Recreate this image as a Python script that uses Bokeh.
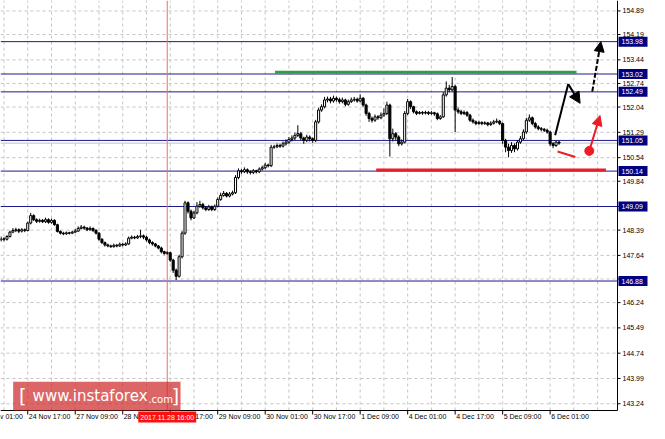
import numpy as np
from bokeh.plotting import figure
from bokeh.models import (Label, BoxAnnotation, Arrow, NormalHead, ColumnDataSource, Range1d)
from bokeh.core.properties import value
from bokeh.embed import file_html
from bokeh.resources import INLINE

# ---------------- data (H1 candles, bar index 0 = 24 Nov 17:00) ----------------
first_bar = -9
first_open = 148.10
closes = [
    148.13, 148.12, 148.20, 148.33, 148.38, 148.40, 148.36, 148.40, 148.38,
    148.60, 148.82, 148.70, 148.65, 148.68, 148.64, 148.70, 148.62, 148.68, 148.55,
    148.35, 148.30, 148.28, 148.31, 148.30, 148.33, 148.36, 148.44, 148.48, 148.45,
    148.40, 148.44, 148.38, 148.30, 148.12, 148.02, 147.95, 147.92, 147.90, 147.94,
    147.92, 147.97, 147.95, 147.98, 148.15, 148.18, 148.16, 148.20, 148.22, 148.18,
    148.10, 148.02, 147.98, 147.92, 147.86, 147.75, 147.70, 147.72, 147.50, 147.20,
    147.02, 147.60, 148.30, 149.20, 148.95, 148.75, 148.90, 149.10, 149.15, 149.05,
    149.00, 149.08, 149.00, 149.10, 149.30, 149.42, 149.48, 149.40, 149.46, 149.50,
    149.95, 150.15, 150.12, 150.18, 150.12, 150.10, 150.15, 150.12, 150.20, 150.24,
    150.32, 150.30, 150.85, 150.86, 150.90, 150.88, 150.95, 151.00, 151.08, 151.12,
    151.20, 151.25, 151.12, 151.05, 151.15, 151.10, 151.05, 151.60, 151.95, 152.05,
    152.25, 152.28, 152.22, 152.30, 152.26, 152.20, 152.25, 152.12, 152.20, 152.25,
    152.27, 152.22, 152.30, 152.10, 151.85, 151.70, 151.65, 151.75, 151.72, 151.80,
    151.85, 152.10, 151.10, 151.25, 151.15, 150.95, 151.00, 151.85, 152.20, 152.05,
    151.90, 151.85, 151.88, 151.86, 151.88, 151.85, 151.87, 151.84, 151.70, 151.75,
    152.40, 152.60, 152.55, 152.65, 151.95, 151.90, 151.85, 151.88, 151.80, 151.65,
    151.60, 151.55, 151.58, 151.55, 151.57, 151.52, 151.56, 151.60, 151.62, 151.55,
    151.05, 150.85, 150.75, 150.90, 150.80, 151.00, 151.10, 151.30, 151.65, 151.72,
    151.55, 151.45, 151.40, 151.38, 151.35, 151.30, 150.95, 150.90, 151.00, 150.97,
]
highs = [
    148.20, 148.18, 148.24, 148.37, 148.45, 148.46, 148.44, 148.45, 148.44,
    148.64, 148.90, 148.86, 148.74, 148.73, 148.72, 148.76, 148.74, 148.73, 148.71,
    148.58, 148.38, 148.34, 148.35, 148.34, 148.37, 148.42, 148.50, 148.54, 148.52,
    148.48, 148.50, 148.47, 148.42, 148.33, 148.15, 148.05, 147.99, 147.96, 147.99,
    147.98, 148.02, 148.01, 148.03, 148.20, 148.23, 148.22, 148.25, 148.40, 148.26,
    148.22, 148.14, 148.06, 148.01, 147.95, 147.90, 147.78, 147.76, 147.75, 147.54,
    147.25, 147.66, 148.36, 149.26, 149.24, 149.00, 148.96, 149.22, 149.26, 149.20,
    149.10, 149.14, 149.12, 149.15, 149.36, 149.50, 149.55, 149.52, 149.52, 149.56,
    150.02, 150.22, 150.20, 150.25, 150.22, 150.16, 150.20, 150.18, 150.25, 150.30,
    150.38, 150.36, 150.92, 150.92, 150.96, 150.95, 151.02, 151.08, 151.15, 151.20,
    151.28, 151.50, 151.30, 151.16, 151.22, 151.20, 151.14, 151.66, 152.02, 152.12,
    152.34, 152.35, 152.34, 152.38, 152.35, 152.32, 152.32, 152.29, 152.26, 152.32,
    152.34, 152.32, 152.42, 152.34, 152.14, 151.90, 151.76, 151.82, 151.80, 151.88,
    152.00, 152.20, 152.14, 151.40, 151.30, 151.20, 151.08, 151.92, 152.28, 152.24,
    152.08, 151.94, 151.92, 151.92, 151.93, 151.92, 151.92, 151.90, 151.88, 151.80,
    152.48, 152.80, 152.70, 152.93, 152.70, 152.02, 151.96, 151.94, 151.92, 151.84,
    151.70, 151.64, 151.63, 151.62, 151.62, 151.60, 151.62, 151.66, 151.70, 151.66,
    151.58, 151.10, 150.95, 151.00, 150.96, 151.06, 151.18, 151.38, 151.72, 151.82,
    151.76, 151.60, 151.50, 151.45, 151.42, 151.40, 151.34, 151.00, 151.06, 151.04,
]
lows = [
    148.05, 148.06, 148.08, 148.17, 148.30, 148.33, 148.30, 148.32, 148.33,
    148.35, 148.56, 148.66, 148.60, 148.61, 148.60, 148.60, 148.58, 148.58, 148.52,
    148.32, 148.26, 148.24, 148.25, 148.26, 148.27, 148.30, 148.34, 148.41, 148.40,
    148.36, 148.37, 148.33, 148.26, 148.08, 147.98, 147.90, 147.88, 147.86, 147.87,
    147.88, 147.89, 147.91, 147.92, 147.95, 148.12, 148.12, 148.13, 148.15, 148.12,
    148.05, 147.97, 147.93, 147.88, 147.82, 147.70, 147.66, 147.66, 147.45, 147.12,
    146.91, 146.98, 147.55, 148.25, 148.88, 148.68, 148.72, 148.86, 149.05, 149.00,
    148.95, 148.96, 148.95, 148.96, 149.06, 149.26, 149.38, 149.36, 149.36, 149.42,
    149.46, 149.90, 150.06, 150.08, 150.06, 150.04, 150.05, 150.07, 150.08, 150.16,
    150.20, 150.25, 150.26, 150.80, 150.82, 150.83, 150.84, 150.90, 150.95, 151.02,
    151.06, 151.15, 151.06, 150.95, 151.00, 151.02, 150.98, 151.00, 151.55, 151.90,
    152.00, 152.18, 152.15, 152.17, 152.20, 152.14, 152.15, 152.06, 152.08, 152.16,
    152.20, 152.17, 152.18, 152.05, 151.78, 151.60, 151.58, 151.60, 151.66, 151.68,
    151.75, 151.80, 150.57, 151.02, 151.05, 150.88, 150.90, 150.96, 151.80, 151.98,
    151.85, 151.80, 151.82, 151.81, 151.82, 151.80, 151.81, 151.78, 151.65, 151.66,
    151.72, 152.35, 152.48, 152.50, 151.30, 151.84, 151.80, 151.80, 151.75, 151.60,
    151.55, 151.50, 151.51, 151.50, 151.51, 151.47, 151.48, 151.52, 151.56, 151.50,
    150.95, 150.70, 150.55, 150.68, 150.70, 150.75, 150.95, 151.05, 151.25, 151.60,
    151.50, 151.40, 151.35, 151.32, 151.30, 151.25, 150.88, 150.82, 150.86, 150.92,
]

x_tick_bars = [-16, 0, 16, 32, 48, 64, 80, 96, 112, 128, 144, 160, 176]
x_tick_labels = ["24 Nov 01:00", "24 Nov 17:00", "27 Nov 09:00", "28 Nov 01:00",
                 "28 Nov 17:00", "29 Nov 09:00", "30 Nov 01:00", "30 Nov 17:00",
                 "1 Dec 09:00", "4 Dec 01:00", "4 Dec 17:00", "5 Dec 09:00", "6 Dec 01:00"]
x_grid_bars = list(range(-8, 200, 8))
y_ticks = [154.89, 154.19, 153.44, 152.74, 152.04, 151.29, 150.54, 149.84, 149.09,
           148.39, 147.64, 146.94, 146.24, 145.49, 144.74, 143.99, 143.24]
y_tick_labels = ["154.89", "154.19", "153.44", "152.74", "152.04", "151.29", "150.54",
                 "149.84", "", "148.39", "147.64", "", "146.24", "145.49", "144.74",
                 "143.99", "143.24"]

level_prices = [153.98, 153.02, 152.49, 151.05, 150.14, 149.09, 146.88]
level_labels = ["153.98", "153.02", "152.49", "151.05", "150.14", "149.09", "146.88"]
bid_price = 150.97

green_level = 153.07
green_bars = (83.3, 184.9)
red_level = 150.17
red_bars = (117.4, 194.8)
cursor_bar = 47
cursor_label = "2017.11.28 16:00"

# hand-drawn forecast marks (bar index, price)
black_path_x = [177.7, 182.1, 186.1]
black_path_y = [151.20, 152.72, 152.15]
dashed_arrow_x = [190.2, 193.1]
dashed_arrow_y = [152.50, 153.98]
red_stroke_x = [178.5, 184.5]
red_stroke_y = [150.72, 150.56]
red_arrow_x = [189.2, 192.8]
red_arrow_y = [150.74, 151.79]

# ---------------- layout ----------------
W, H = 649, 423
CW, CH = 617, 410                 # chart area (price panel) in px
XR0, XR1 = -9.18, 198.7           # chart area x extent (bars)
YR0, YR1 = 143.04, 155.20         # chart area y extent (price)
PXB = CW / (XR1 - XR0)            # px per bar
PPP = (YR1 - YR0) / CH            # price per px
XF1 = XR0 + W / PXB               # full canvas extent (axis strips inside the frame)
YF0 = YR1 - H * PPP
NAVY = "#1c1c8c"
FONT = "Liberation Sans"

def dx(px):
    return px / PXB

def dy(px):
    return px * PPP

def rx(X):  # reference-layout helper for the watermark
    return XR0 + X / 634.0 * (XR1 - XR0)

def ry(Y):
    return YR1 - Y / 428.0 * (YR1 - YR0)

p = figure(width=W, height=H, x_range=Range1d(XR0, XF1), y_range=Range1d(YF0, YR1),
           x_axis_location=None, y_axis_location=None, output_backend="svg",
           toolbar_location=None, min_border=0)
p.outline_line_color = None
p.background_fill_color = "white"
p.xgrid.visible = False
p.ygrid.visible = False

# dotted grid
p.segment(x0=x_grid_bars, y0=[YR0] * len(x_grid_bars), x1=x_grid_bars,
          y1=[YR1] * len(x_grid_bars), line_color="#c4c4c4", line_dash="3 3", line_width=1)
p.segment(x0=[XR0] * len(y_ticks), y0=y_ticks, x1=[XR1] * len(y_ticks), y1=y_ticks,
          line_color="#c4c4c4", line_dash="3 3", line_width=1)

# level lines
p.segment(x0=[XR0] * len(level_prices), y0=level_prices, x1=[XR1] * len(level_prices),
          y1=level_prices, line_color=NAVY, line_width=1)
p.segment(x0=[XR0], y0=[bid_price], x1=[XR1], y1=[bid_price], line_color="#c0c0c0", line_width=1)
p.segment(x0=[cursor_bar], y0=[YR0], x1=[cursor_bar], y1=[YR1], line_color="#f26a6a", line_width=1)

# candles
n = len(closes)
xs = list(range(first_bar, first_bar + n))
opens = [first_open] + closes[:-1]
tops = [max(o, c) for o, c in zip(opens, closes)]
bots = [min(o, c) for o, c in zip(opens, closes)]
fills = ["white" if c >= o else "black" for o, c in zip(opens, closes)]
src = ColumnDataSource(dict(x=xs, o=opens, c=closes, h=highs, l=lows,
                            top=tops, bot=bots, fill=fills))
p.segment(x0="x", y0="l", x1="x", y1="h", source=src, line_color="black", line_width=1)
p.vbar(x="x", width=0.7, top="top", bottom="bot", source=src,
       fill_color="fill", line_color="black", line_width=1)

p.line(list(green_bars), [green_level, green_level], line_color="#2ea043", line_width=3)
p.line(list(red_bars), [red_level, red_level], line_color="#e8202a", line_width=3)

# forecast marks
p.line(black_path_x[:2], black_path_y[:2], line_color="black", line_width=2)
p.add_layout(Arrow(x_start=black_path_x[1], y_start=black_path_y[1],
                   x_end=black_path_x[2], y_end=black_path_y[2],
                   line_color="black", line_width=2,
                   end=NormalHead(size=11, fill_color="black", line_color="black")))
p.add_layout(Arrow(x_start=dashed_arrow_x[0], y_start=dashed_arrow_y[0],
                   x_end=dashed_arrow_x[1], y_end=dashed_arrow_y[1],
                   line_color="black", line_width=2, line_dash="5 2",
                   end=NormalHead(size=10, fill_color="black", line_color="black")))
p.line(red_stroke_x, red_stroke_y, line_color="#ee1c25", line_width=2)
p.add_layout(Arrow(x_start=red_arrow_x[0], y_start=red_arrow_y[0],
                   x_end=red_arrow_x[1], y_end=red_arrow_y[1],
                   line_color="#ee1c25", line_width=2,
                   end=NormalHead(size=10, fill_color="#ee1c25", line_color="#ee1c25")))
p.scatter([red_arrow_x[0]], [red_arrow_y[0]], size=9, color="#ee1c25")

# watermark
p.add_layout(BoxAnnotation(left=rx(13), right=rx(185), bottom=YR0, top=ry(398),
                           fill_color="#cf2a2a", fill_alpha=0.72, line_color=None))
p.add_layout(Label(x=rx(19), y=ry(413), text="[", text_color="white", text_font="DejaVu Sans",
                   text_font_size="19px", text_baseline="middle"))
p.add_layout(Label(x=rx(33), y=ry(413), text="www.instaforex", text_color="white",
                   text_font="DejaVu Sans", text_font_size="15px", text_baseline="middle"))
p.add_layout(Label(x=rx(152), y=ry(416), text=".com", text_color="white",
                   text_font="DejaVu Sans", text_font_size="10px", text_baseline="middle"))
p.add_layout(Label(x=rx(176), y=ry(413), text="]", text_color="white", text_font="DejaVu Sans",
                   text_font_size="19px", text_baseline="middle"))

# ---- axes (drawn in strips of the frame) ----
p.segment(x0=[XR1, XR0], y0=[YR0, YR0], x1=[XR1, XR1], y1=[YR1, YR0],
          line_color="black", line_width=1)
# y ticks + labels (right)
p.segment(x0=[XR1] * len(y_ticks), y0=y_ticks, x1=[XR1 + dx(3)] * len(y_ticks), y1=y_ticks,
          line_color="black", line_width=1)
p.text(x=[XR1 + dx(5)] * len(y_ticks), y=y_ticks, text=y_tick_labels,
       text_font=value(FONT), text_font_size=value("7px"), text_color="black",
       text_align="left", text_baseline="middle")
# x ticks + labels (bottom, left aligned at tick)
p.segment(x0=x_tick_bars, y0=[YR0] * len(x_tick_bars), x1=x_tick_bars,
          y1=[YR0 - dy(4)] * len(x_tick_bars), line_color="black", line_width=1)
p.text(x=[t + dx(1) for t in x_tick_bars], y=[YR0 - dy(2)] * len(x_tick_bars),
       text=x_tick_labels, text_font=value(FONT), text_font_size=value("7px"),
       text_color="black", text_align="left", text_baseline="top")
# cursor time box
p.quad(left=[cursor_bar - dx(29)], right=[cursor_bar + dx(29)], top=[YR0 - dy(1)],
       bottom=[YR0 - dy(12)], fill_color="#ff1010", line_color=None)
p.text(x=[cursor_bar], y=[YR0 - dy(6.5)], text=[cursor_label], text_font=value(FONT),
       text_font_size=value("7px"), text_color="white", text_align="center",
       text_baseline="middle")
# price boxes
nl = len(level_prices)
p.quad(left=[XR1 + dx(1)] * nl, right=[XR1 + dx(30)] * nl,
       top=[lv + dy(5) for lv in level_prices], bottom=[lv - dy(5) for lv in level_prices],
       fill_color="#000080", line_color=None)
p.text(x=[XR1 + dx(4)] * nl, y=level_prices, text=level_labels, text_font=value(FONT),
       text_font_size=value("7px"), text_color="white", text_align="left",
       text_baseline="middle")

open("out.html", "w").write(file_html(p, INLINE))
